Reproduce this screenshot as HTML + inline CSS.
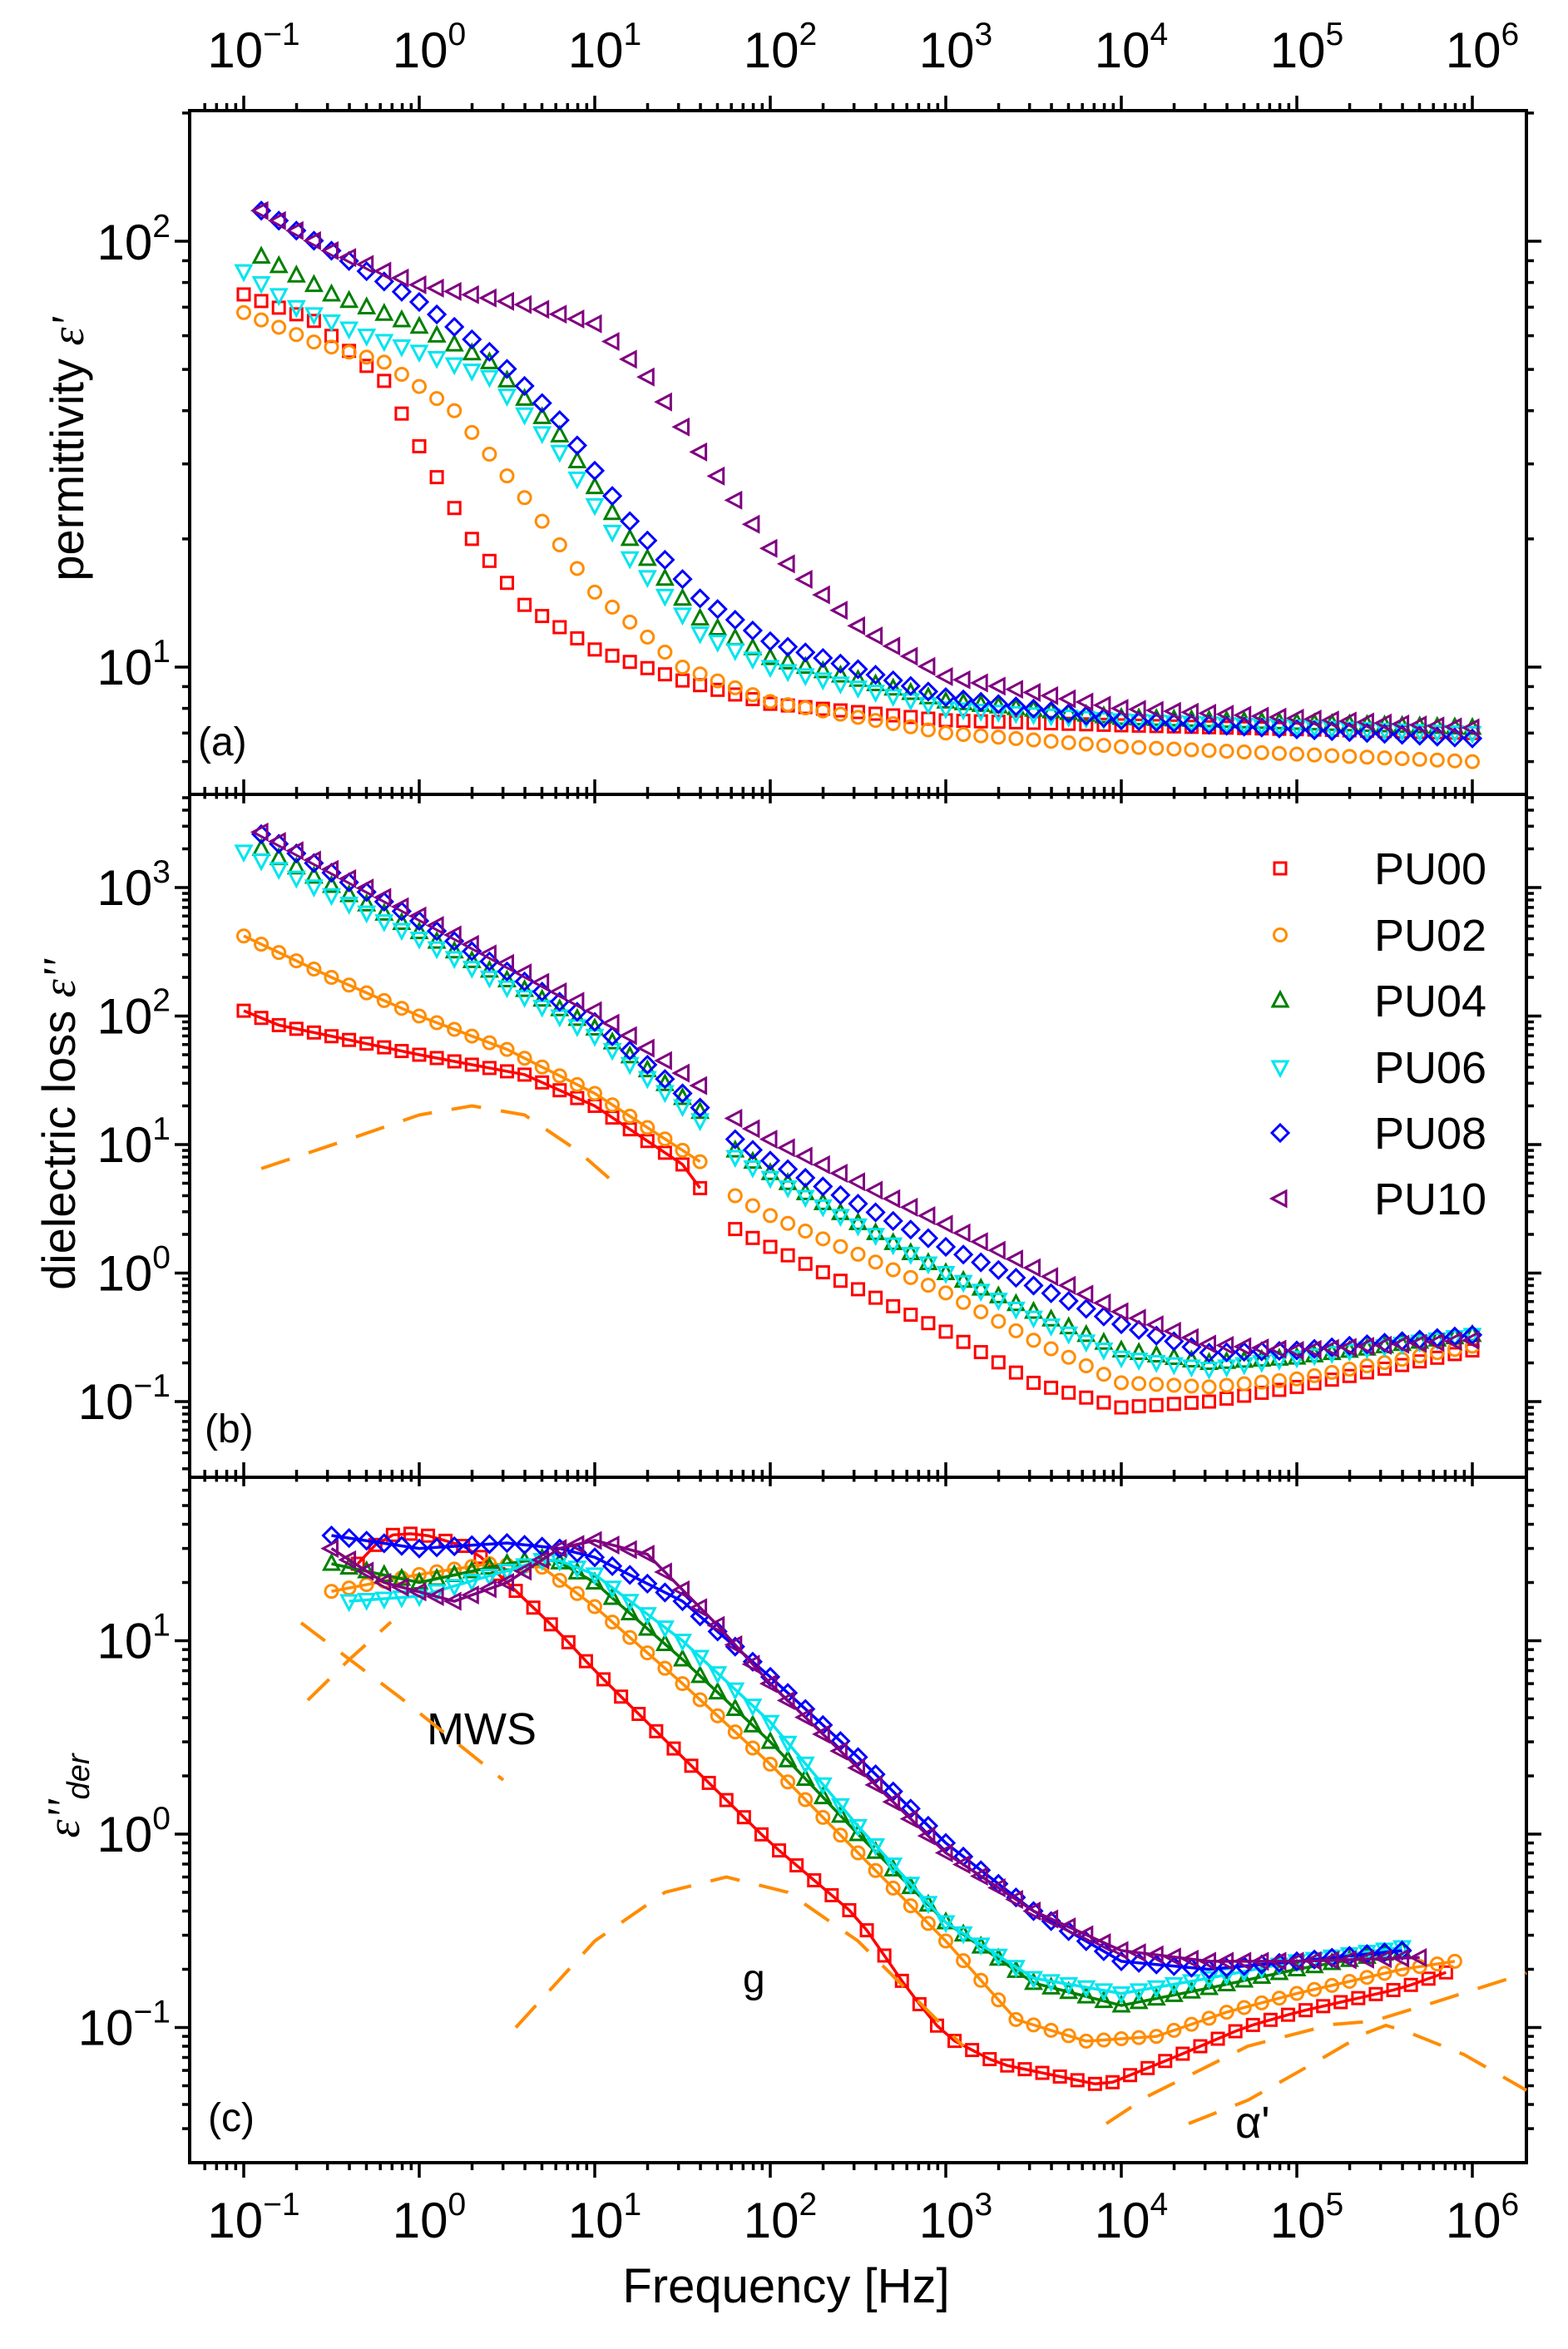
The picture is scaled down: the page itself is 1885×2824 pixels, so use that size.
<!DOCTYPE html>
<html><head><meta charset="utf-8"><style>
html,body{margin:0;padding:0;background:#fff;}
svg{display:block;}
text{font-family:"Liberation Sans",sans-serif;fill:#000;}
</style></head><body>
<svg id="s" width="1885" height="2824" xmlns="http://www.w3.org/2000/svg"></svg>
<script>
const S=document.getElementById('s');let out='';
const X=l=>293+(l+1)*211;
const L=228,R=1835,T=133,AB=955,BC=1776,B=2600;
const YA=v=>802-(Math.log10(v)-1)*512;
const YB=v=>1067-(Math.log10(v)-3)*154.5;
const YC=v=>2205-Math.log10(v)*232.5;
out+=`<g stroke="#000" stroke-width="4" fill="none"><rect x="${L}" y="${T}" width="${R-L}" height="${B-T}"/><line x1="${L}" y1="${AB}" x2="${R}" y2="${AB}"/><line x1="${L}" y1="${BC}" x2="${R}" y2="${BC}"/></g>`;
let tk='';
for(let d=-2;d<=6;d++){for(let m=1;m<10;m++){const lx=d+Math.log10(m);const x=X(lx);if(x<L+2||x>R-2)continue;const maj=m==1;const len=maj?18:9;
tk+=`<line x1="${x}" y1="${T}" x2="${x}" y2="${T-len}"/>`;
tk+=`<line x1="${x}" y1="${B}" x2="${x}" y2="${B+len}"/>`;
tk+=`<line x1="${x}" y1="${AB-len}" x2="${x}" y2="${AB+len*0.6}"/>`;
tk+=`<line x1="${x}" y1="${BC-len}" x2="${x}" y2="${BC+len*0.6}"/>`;}}
function yticks(f,y0,y1,dmin,dmax){for(let d=dmin;d<=dmax;d++)for(let m=1;m<10;m++){const y=f(m*Math.pow(10,d));if(y<y0+2||y>y1-2)continue;const len=m==1?18:9;tk+=`<line x1="${L}" y1="${y}" x2="${L-len}" y2="${y}"/><line x1="${R}" y1="${y}" x2="${R+len}" y2="${y}"/>`;}}
yticks(YA,T,AB,0,2);yticks(YB,AB,BC,-2,3);yticks(YC,BC,B,-2,1);
out+=`<g stroke="#000" stroke-width="3.5">${tk}</g>`;
function pw(x,y,e,fs){return `<text x="${x}" y="${y}" font-size="${fs}" text-anchor="middle">10<tspan font-size="${fs*0.65}" dy="${-fs*0.45}">${e}</tspan></text>`;}
function pwr(x,y,e,fs){return `<text x="${x}" y="${y}" font-size="${fs}" text-anchor="end">10<tspan font-size="${fs*0.65}" dy="${-fs*0.45}">${e}</tspan></text>`;}
const ex=['−1','0','1','2','3','4','5','6'];
for(let i=0;i<8;i++){out+=pw(X(i-1)+12,81,ex[i],60);out+=pw(X(i-1)+12,2690,ex[i],60);}
out+=pwr(205,312,'2',60)+pwr(205,823,'1',60);
[[3,'3'],[2,'2'],[1,'1'],[0,'0'],[-1,'−1']].forEach(([d,e])=>{out+=pwr(205,YB(Math.pow(10,d))+21,e,60);});
[[1,'1'],[0,'0'],[-1,'−1']].forEach(([d,e])=>{out+=pwr(205,YC(Math.pow(10,d))+21,e,60);});
out+=`<text transform="translate(100,540) rotate(-90)" font-size="56" text-anchor="middle">permittivity <tspan font-family="Liberation Serif" font-style="italic">ε'</tspan></text>`;
out+=`<text transform="translate(90,1352) rotate(-90)" font-size="56" text-anchor="middle">dielectric loss <tspan font-family="Liberation Serif" font-style="italic">ε''</tspan></text>`;
out+=`<text transform="translate(95,2159) rotate(-90)" font-size="56" text-anchor="middle"><tspan font-family="Liberation Serif" font-style="italic">ε''</tspan><tspan font-size="38" font-style="italic" dy="12">der</tspan></text>`;
out+=`<text x="945" y="2768" font-size="58" text-anchor="middle">Frequency [Hz]</text>`;
out+=`<text x="238" y="908" font-size="48">(a)</text><text x="246" y="1734" font-size="48">(b)</text><text x="250" y="2562" font-size="48">(c)</text>`;
out+=`<text x="513" y="2097" font-size="54">MWS</text>`;
out+=`<text x="893" y="2395" font-size="48" font-family="Liberation Serif">g</text>`;
out+=`<text x="1485" y="2570" font-size="54" font-family="Liberation Serif">α'</text>`;
const col=['#ff0000','#ff8c00','#008000','#00e5ee','#0000ff','#800080'];
const mk=['sq','ci','tu','td','di','tl'];
function marker(t,x,y,c){switch(t){
case 'sq':return `<rect x="${x-7}" y="${y-7}" width="14" height="14" stroke="${c}"/>`;
case 'ci':return `<circle cx="${x}" cy="${y}" r="7.5" stroke="${c}"/>`;
case 'tu':return `<polygon points="${x},${y-10} ${x+9},${y+7} ${x-9},${y+7}" stroke="${c}"/>`;
case 'td':return `<polygon points="${x},${y+10} ${x+9},${y-7} ${x-9},${y-7}" stroke="${c}"/>`;
case 'di':return `<polygon points="${x},${y-10} ${x+10},${y} ${x},${y+10} ${x-10},${y}" stroke="${c}"/>`;
case 'tl':return `<polygon points="${x-10},${y} ${x+7},${y-9} ${x+7},${y+9}" stroke="${c}"/>`;}}
function interp(pts,l){if(l<=pts[0][0])return pts[0][1];for(let i=1;i<pts.length;i++){if(l<=pts[i][0]){const a=pts[i-1],b=pts[i];const t=(l-a[0])/(b[0]-a[0]);return Math.pow(10,Math.log10(a[1])+t*(Math.log10(b[1])-Math.log10(a[1])));}}return pts[pts.length-1][1];}
function series(pts,Yf,i,step,gap,line){const c=col[i];let g=`<g fill="none" stroke-width="3">`;const s=pts[0][0],e=pts[pts.length-1][0];let ps=[];
for(let l=s;l<=e+1e-6;l+=step){if(gap&&l>gap[0]&&l<gap[1])continue;ps.push([X(l),Yf(interp(pts,l))]);}
if(line){g+=`<polyline points="${ps.filter(p=>line===true||p[0]<X(line)).map(p=>p.join(',')).join(' ')}" stroke="${c}" stroke-width="3.5"/>`;}
ps.forEach(p=>g+=marker(mk[i],p[0],p[1],c));return g+'</g>';}
const A=[
[[-1,75],[-0.6,65],[-0.2,47],[0,33],[0.3,20],[0.6,14],[1,11],[1.5,9.3],[2,8.2],[3,7.5],[4,7.3],[6,7.0]],
[[-1,68],[-0.6,58],[-0.2,52],[0.2,40],[0.6,25],[1,15],[1.5,10],[2,8.3],[3,7],[4,6.5],[6,6.0]],
[[-0.9,92],[-0.5,75],[0,63],[0.4,52],[0.8,35],[1.2,20],[1.6,13],[2,10.5],[3,8.3],[4,7.6],[6,7.2]],
[[-1,85],[-0.7,70],[-0.3,60],[0,55],[0.4,48],[0.8,32],[1.2,18],[1.6,12],[2,10],[3,8],[4,7.5],[6,7.0]],
[[-0.9,118],[-0.5,95],[0,72],[0.4,55],[0.8,38],[1.2,22],[1.6,14.5],[2,11.5],[3,8.5],[4,7.5],[6,6.8]],
[[-0.9,118],[-0.5,95],[0,79],[0.6,71],[1,64],[1.3,48],[1.6,32],[2,19],[2.5,12.5],[3,9.5],[4,8],[6,7.2]]];
A.forEach((p,i)=>out+=series(p,YA,i,0.1,null,false));
const Bd=[
[[-1,110],[-0.8,85],[0,50],[0.6,35],[1,20],[1.5,7],[1.7,3],[1.8,2.2],[2,1.6],[3,0.35],[3.5,0.14],[4,0.09],[4.5,0.1],[5,0.13],[6,0.25]],
[[-1,420],[-0.5,200],[0,100],[0.5,55],[1,25],[1.7,6],[1.8,4],[2,2.8],[3,0.7],[3.5,0.3],[4,0.14],[4.5,0.13],[5,0.15],[6,0.27]],
[[-0.9,2000],[0,450],[1,80],[1.7,14],[1.8,9],[2,6],[3,1],[3.5,0.5],[4,0.25],[4.5,0.2],[5,0.22],[6,0.33]],
[[-1,1900],[0,400],[1,70],[1.7,12],[1.8,8],[2,5.5],[3,1],[3.5,0.45],[4,0.22],[4.5,0.18],[5,0.22],[6,0.33]],
[[-0.9,2600],[0,550],[1,90],[1.7,15],[1.8,11],[2,7.5],[3,1.6],[3.5,0.8],[4,0.4],[4.5,0.24],[5,0.25],[6,0.33]],
[[-0.9,2700],[0,600],[1,110],[1.7,23],[1.8,16],[2,11],[3,2.4],[3.5,1.1],[4,0.5],[4.5,0.28],[5,0.25],[6,0.3]]];
Bd.forEach((p,i)=>out+=series(p,YB,i,0.1,[1.65,1.75],i<2?1.66:false));
function dash(pts,Yf){return `<polyline fill="none" stroke="#ff8c00" stroke-width="4" stroke-dasharray="36,24" points="${pts.map(p=>X(p[0])+','+Yf(p[1])).join(' ')}"/>`;}
out+=dash([[-0.9,6.5],[-0.4,11],[0,17],[0.3,20],[0.6,17],[0.9,9],[1.1,5.2]],YB);
const Cd=[
[[-0.35,25],[-0.2,35],[0,36],[0.3,30],[0.5,20],[0.8,11],[1,7],[1.5,2.5],[2,0.9],[2.5,0.37],[2.8,0.15],[3,0.09],[3.3,0.065],[3.9,0.05],[4.3,0.07],[4.7,0.1],[5,0.12],[5.6,0.16],[5.9,0.2]],
[[-0.5,18],[0,22],[0.4,25],[0.7,24],[1,15],[1.5,6],[2,2.3],[2.5,0.8],[3,0.28],[3.4,0.11],[3.8,0.085],[4.2,0.09],[4.6,0.12],[5,0.15],[5.6,0.2],[5.9,0.22]],
[[-0.5,25],[0,20],[0.5,25],[0.75,27],[1,20],[1.5,8],[2,3],[2.5,1],[3,0.35],[3.5,0.17],[4,0.13],[4.5,0.16],[5,0.2],[5.6,0.25]],
[[-0.4,16],[0,17],[0.5,23],[0.75,27],[1,22],[1.5,10],[2,3.8],[2.5,1.1],[3,0.35],[3.5,0.18],[4,0.15],[4.5,0.18],[5,0.22],[5.6,0.26]],
[[-0.5,35],[0,30],[0.5,32],[0.8,30],[1,27],[1.5,16],[2,6.5],[2.5,2.5],[3,0.9],[3.5,0.4],[4,0.22],[4.5,0.2],[5,0.22],[5.6,0.25]],
[[-0.5,30],[-0.2,20],[0.2,16],[0.5,20],[0.8,30],[1,33],[1.3,28],[1.7,12],[2,6],[2.5,2.2],[3,0.8],[3.5,0.4],[4,0.25],[4.5,0.22],[5,0.22],[5.7,0.23]]];
Cd.forEach((p,i)=>out+=series(p,YC,i,0.1,null,true));
function dpx(pts){return `<polyline fill="none" stroke="#ff8c00" stroke-width="4" stroke-dasharray="36,24" points="${pts.map(p=>p.join(',')).join(' ')}"/>`;}
out+=dpx([[362,1951],[480,2040],[605,2140]]);
out+=dpx([[370,2044],[420,1995],[470,1950]]);
out+=dash([[0.55,0.1],[1.0,0.28],[1.4,0.5],[1.75,0.6],[2.1,0.5],[2.5,0.28],[3.1,0.08]],YC);
out+=dpx([[1330,2553],[1380,2520],[1500,2460],[1600,2434],[1650,2430],[1722,2408],[1835,2372]]);
out+=dpx([[1429,2553],[1500,2525],[1580,2480],[1640,2445],[1666,2435],[1690,2442],[1760,2470],[1835,2513]]);
const names=['PU00','PU02','PU04','PU06','PU08','PU10'];const ly=[1044,1124,1203,1283,1362,1441];
names.forEach((n,i)=>{out+=`<g fill="none" stroke-width="3">${marker(mk[i],1539,ly[i],col[i])}</g><text x="1652" y="${ly[i]+19}" font-size="54">${n}</text>`;});
S.innerHTML=out;
</script>
</body></html>
